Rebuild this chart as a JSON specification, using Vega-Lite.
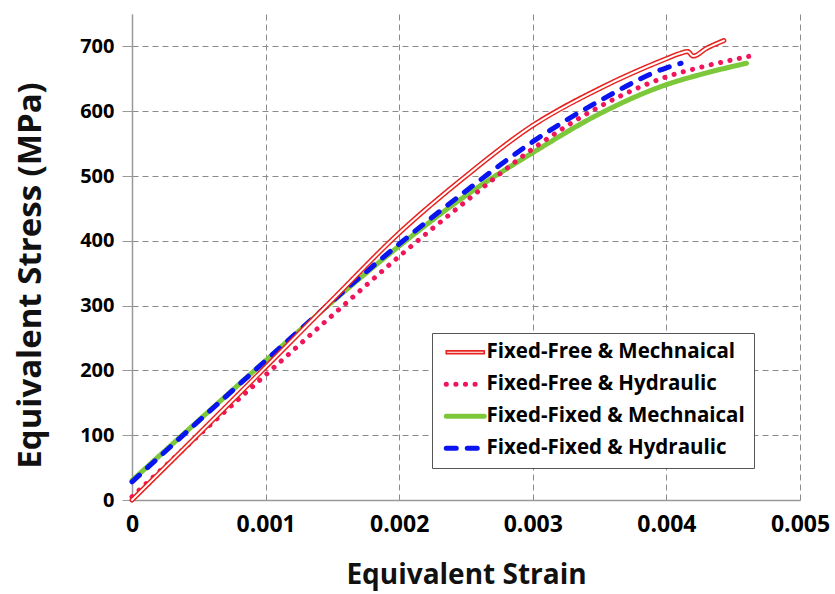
{
  "$schema": "https://vega.github.io/schema/vega-lite/v6.json",
  "width": 668,
  "height": 486,
  "autosize": "none",
  "padding": {"left": 132, "top": 14, "right": 35, "bottom": 94},
  "config": {"view": {"stroke": null}, "font": "Open Sans"},
  "data": {
    "values": [
      {"series": "Fixed-Fixed & Mechnaical", "strain": 0, "stress": 30},
      {"series": "Fixed-Fixed & Mechnaical", "strain": 0.0005, "stress": 123},
      {"series": "Fixed-Fixed & Mechnaical", "strain": 0.001, "stress": 215},
      {"series": "Fixed-Fixed & Mechnaical", "strain": 0.0015, "stress": 306},
      {"series": "Fixed-Fixed & Mechnaical", "strain": 0.002, "stress": 392},
      {"series": "Fixed-Fixed & Mechnaical", "strain": 0.0025, "stress": 470},
      {"series": "Fixed-Fixed & Mechnaical", "strain": 0.003, "stress": 536},
      {"series": "Fixed-Fixed & Mechnaical", "strain": 0.0035, "stress": 596},
      {"series": "Fixed-Fixed & Mechnaical", "strain": 0.004, "stress": 641},
      {"series": "Fixed-Fixed & Mechnaical", "strain": 0.0043, "stress": 659},
      {"series": "Fixed-Fixed & Mechnaical", "strain": 0.0046, "stress": 674},
      {"series": "Fixed-Fixed & Hydraulic", "strain": 0, "stress": 28},
      {"series": "Fixed-Fixed & Hydraulic", "strain": 0.0005, "stress": 122},
      {"series": "Fixed-Fixed & Hydraulic", "strain": 0.001, "stress": 215},
      {"series": "Fixed-Fixed & Hydraulic", "strain": 0.0015, "stress": 307},
      {"series": "Fixed-Fixed & Hydraulic", "strain": 0.002, "stress": 395},
      {"series": "Fixed-Fixed & Hydraulic", "strain": 0.0025, "stress": 477},
      {"series": "Fixed-Fixed & Hydraulic", "strain": 0.003, "stress": 553},
      {"series": "Fixed-Fixed & Hydraulic", "strain": 0.0035, "stress": 616},
      {"series": "Fixed-Fixed & Hydraulic", "strain": 0.004, "stress": 667},
      {"series": "Fixed-Fixed & Hydraulic", "strain": 0.00411, "stress": 674},
      {"series": "Fixed-Free & Hydraulic", "strain": 0, "stress": 5},
      {"series": "Fixed-Free & Hydraulic", "strain": 0.0005, "stress": 100},
      {"series": "Fixed-Free & Hydraulic", "strain": 0.001, "stress": 193},
      {"series": "Fixed-Free & Hydraulic", "strain": 0.0015, "stress": 285},
      {"series": "Fixed-Free & Hydraulic", "strain": 0.002, "stress": 376},
      {"series": "Fixed-Free & Hydraulic", "strain": 0.0025, "stress": 461},
      {"series": "Fixed-Free & Hydraulic", "strain": 0.003, "stress": 542},
      {"series": "Fixed-Free & Hydraulic", "strain": 0.0035, "stress": 607},
      {"series": "Fixed-Free & Hydraulic", "strain": 0.004, "stress": 653},
      {"series": "Fixed-Free & Hydraulic", "strain": 0.0043, "stress": 670},
      {"series": "Fixed-Free & Hydraulic", "strain": 0.00465, "stress": 686},
      {"series": "Fixed-Free & Mechnaical", "strain": 0, "stress": 0},
      {"series": "Fixed-Free & Mechnaical", "strain": 0.0005, "stress": 102},
      {"series": "Fixed-Free & Mechnaical", "strain": 0.001, "stress": 205},
      {"series": "Fixed-Free & Mechnaical", "strain": 0.0015, "stress": 309},
      {"series": "Fixed-Free & Mechnaical", "strain": 0.002, "stress": 412},
      {"series": "Fixed-Free & Mechnaical", "strain": 0.0025, "stress": 500},
      {"series": "Fixed-Free & Mechnaical", "strain": 0.003, "stress": 578},
      {"series": "Fixed-Free & Mechnaical", "strain": 0.0035, "stress": 635},
      {"series": "Fixed-Free & Mechnaical", "strain": 0.004, "stress": 681},
      {"series": "Fixed-Free & Mechnaical", "strain": 0.0041, "stress": 689},
      {"series": "Fixed-Free & Mechnaical", "strain": 0.00416, "stress": 692},
      {"series": "Fixed-Free & Mechnaical", "strain": 0.0042, "stress": 685},
      {"series": "Fixed-Free & Mechnaical", "strain": 0.0043, "stress": 697},
      {"series": "Fixed-Free & Mechnaical", "strain": 0.00443, "stress": 709}
    ]
  },
  "encoding": {
    "x": {
      "field": "strain",
      "type": "quantitative",
      "scale": {"domain": [0, 0.005], "nice": false},
      "axis": {
        "title": "Equivalent Strain",
        "values": [0, 0.001, 0.002, 0.003, 0.004, 0.005],
        "format": ".3~f",
        "labelFont": "Open Sans",
        "labelFontWeight": "bold",
        "labelFontSize": 23,
        "labelColor": "#000",
        "labelPadding": 13,
        "labelFlush": false,
        "ticks": false,
        "domainColor": "#999",
        "domainWidth": 1.5,
        "grid": true,
        "gridColor": "#8a8a8a",
        "gridDash": [6, 4],
        "gridWidth": 1,
        "titleFont": "Open Sans",
        "titleFontWeight": "bold",
        "titleFontSize": 28,
        "titleColor": "#111",
        "titlePadding": 25
      }
    },
    "y": {
      "field": "stress",
      "type": "quantitative",
      "scale": {"domain": [0, 750], "nice": false},
      "axis": {
        "title": "Equivalent Stress (MPa)",
        "values": [0, 100, 200, 300, 400, 500, 600, 700],
        "labelFont": "Open Sans",
        "labelFontWeight": "bold",
        "labelFontSize": 20,
        "labelColor": "#000",
        "labelPadding": 8,
        "ticks": true,
        "tickSize": 10,
        "tickColor": "#999",
        "domainColor": "#999",
        "domainWidth": 1.5,
        "grid": true,
        "gridColor": "#8a8a8a",
        "gridDash": [6, 4],
        "gridWidth": 1,
        "titleFont": "Open Sans",
        "titleFontWeight": "bold",
        "titleFontSize": 33,
        "titleColor": "#111",
        "titleAngle": 270,
        "titleAlign": "center",
        "titleBaseline": "middle",
        "titleX": -102,
        "titleY": 261
      }
    }
  },
  "layer": [
    {
      "mark": {"type": "line", "strokeCap": "round", "strokeJoin": "round", "interpolate": "monotone", "strokeWidth": 5},
      "encoding": {
        "color": {
          "field": "series",
          "type": "nominal",
          "sort": null,
          "scale": {
            "domain": ["Fixed-Free & Mechnaical", "Fixed-Free & Hydraulic", "Fixed-Fixed & Mechnaical", "Fixed-Fixed & Hydraulic"],
            "range": ["#e8231f", "#f0145a", "#7cc83a", "#0a14f0"]
          },
          "legend": {
            "title": null,
            "orient": "none",
            "legendX": 300,
            "legendY": 319,
            "strokeColor": "#555",
            "fillColor": "#fff",
            "padding": 9,
            "labelFont": "Open Sans",
            "labelFontWeight": "bold",
            "labelFontSize": 20.5,
            "labelColor": "#000",
            "labelLimit": 500,
            "labelOffset": 11,
            "rowPadding": 11,
            "symbolType": "M-3.8,0H3.8",
            "symbolSize": 100,
            "symbolOffset": 14,
            "symbolStrokeWidth": 5,
            "encode": {
              "symbols": {
                "update": {
                  "shape": {"signal": "datum.value === 'Fixed-Free & Mechnaical' ? 'M-3.8,-0.28H3.8V0.28H-3.8Z' : 'M-3.8,0H3.8'"},
                  "fill": {"signal": "datum.value === 'Fixed-Free & Mechnaical' ? '#ffffff' : 'transparent'"},
                  "strokeWidth": {"signal": "datum.value === 'Fixed-Free & Mechnaical' ? 1.6 : 5"},
                  "strokeCap": {"value": "round"}
                }
              }
            }
          }
        },
        "strokeDash": {
          "field": "series",
          "type": "nominal",
          "sort": null,
          "scale": {
            "domain": ["Fixed-Free & Mechnaical", "Fixed-Free & Hydraulic", "Fixed-Fixed & Mechnaical", "Fixed-Fixed & Hydraulic"],
            "range": [[1, 0], [0.1, 9.5], [1, 0], [10, 11]]
          },
          "legend": {
            "title": null,
            "orient": "none",
            "legendX": 300,
            "legendY": 319,
            "strokeColor": "#555",
            "fillColor": "#fff",
            "padding": 9,
            "labelFont": "Open Sans",
            "labelFontWeight": "bold",
            "labelFontSize": 20.5,
            "labelColor": "#000",
            "labelLimit": 500,
            "labelOffset": 11,
            "rowPadding": 11,
            "symbolType": "M-3.8,0H3.8",
            "symbolSize": 100,
            "symbolOffset": 14,
            "symbolStrokeWidth": 5
          }
        }
      }
    },
    {
      "transform": [{"filter": "datum.series === 'Fixed-Free & Mechnaical'"}],
      "mark": {"type": "line", "color": "#ffffff", "strokeWidth": 2, "strokeCap": "round", "strokeJoin": "round", "interpolate": "monotone"},
      "encoding": {}
    }
  ]
}
